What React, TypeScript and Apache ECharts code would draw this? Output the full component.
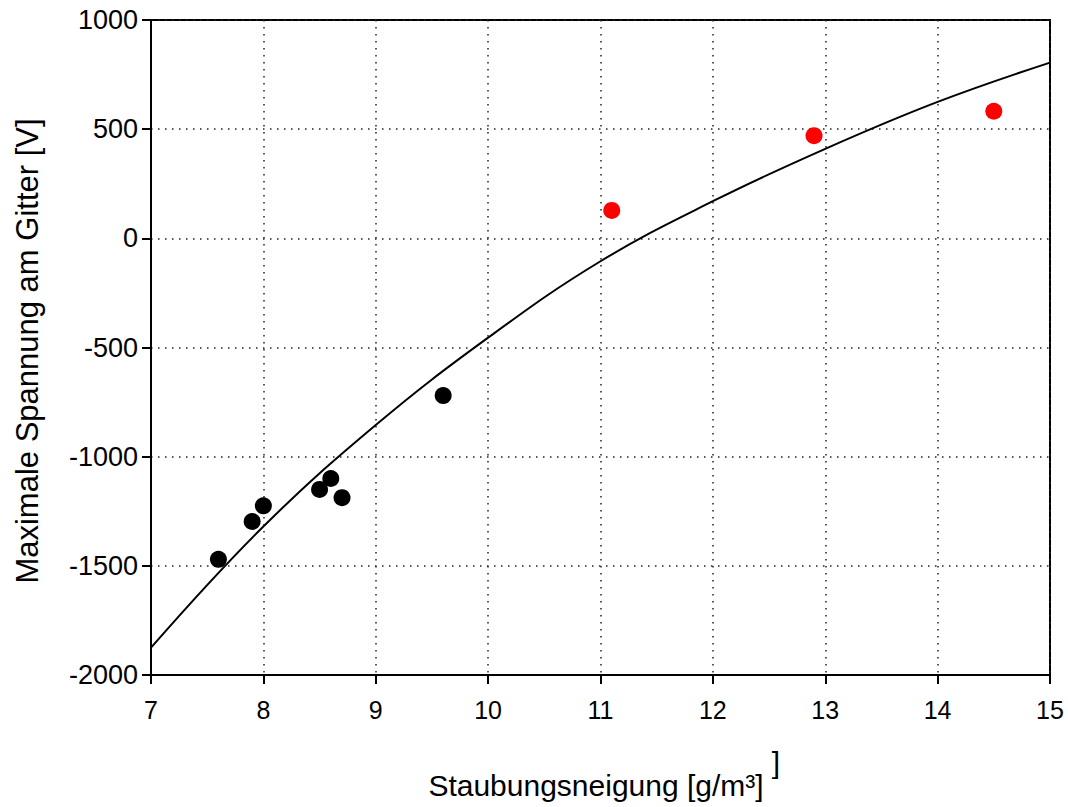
import React, { useEffect, useRef } from "react";
import * as echarts from "echarts";

const xTicks = [7, 8, 9, 10, 11, 12, 13, 14, 15];
const yTicks = [-2000, -1500, -1000, -500, 0, 500, 1000];

const blackX = [7.6, 7.9, 8.0, 8.5, 8.6, 8.7, 9.6];
const blackY = [-1470, -1297, -1225, -1150, -1100, -1188, -720];

const redX = [11.1, 12.9, 14.5];
const redY = [128, 470, 582];

const curveX = [7, 8, 9, 10, 11, 12, 13, 14, 15];
const curveY = [-1875, -1320, -855, -455, -105, 170, 410, 625, 805];

const xTitle = "Staubungsneigung [g/m³]";
const yTitle = "Maximale Spannung am Gitter [V]";

const FONT = "'Liberation Sans', Arial, Helvetica, sans-serif";

export default function App() {
  const ref = useRef<HTMLDivElement>(null);

  useEffect(() => {
    if (!ref.current) return;
    const chart = echarts.init(ref.current, null, { renderer: "svg" });
    const gridStyle = {
      show: true,
      lineStyle: { color: "#222", width: 1.5, type: [1.5, 5.5] as any },
    };
    chart.setOption({
      animation: false,
      backgroundColor: "#fff",
      grid: {
        left: 151,
        right: 18,
        top: 20,
        bottom: 132,
        show: true,
        borderColor: "#000",
        borderWidth: 2,
        backgroundColor: "transparent",
      },
      xAxis: {
        type: "value",
        min: xTicks[0],
        max: xTicks[xTicks.length - 1],
        interval: 1,
        axisLine: { show: true, onZero: false, lineStyle: { color: "#000", width: 2 } },
        axisTick: { show: true, length: 9, lineStyle: { color: "#000", width: 2 } },
        axisLabel: {
          color: "#000",
          fontSize: 25,
          fontFamily: FONT,
          margin: 22,
          formatter: (v: number) => String(v),
        },
        splitLine: gridStyle,
      },
      yAxis: {
        type: "value",
        min: yTicks[0],
        max: yTicks[yTicks.length - 1],
        interval: 500,
        axisLine: { show: true, onZero: false, lineStyle: { color: "#000", width: 2 } },
        axisTick: { show: true, length: 9, lineStyle: { color: "#000", width: 2 } },
        axisLabel: {
          color: "#000",
          fontSize: 27,
          fontFamily: FONT,
          margin: 13,
          formatter: (v: number) => String(v),
        },
        splitLine: gridStyle,
      },
      series: [
        {
          type: "line",
          data: curveX.map((x, i) => [x, curveY[i]]),
          smooth: 0.4,
          showSymbol: false,
          lineStyle: { color: "#000", width: 2 },
          z: 2,
        },
        {
          type: "scatter",
          data: blackX.map((x, i) => [x, blackY[i]]),
          symbol: "circle",
          symbolSize: 17,
          itemStyle: { color: "#000", opacity: 1 },
          z: 3,
        },
        {
          type: "scatter",
          data: redX.map((x, i) => [x, redY[i]]),
          symbol: "circle",
          symbolSize: 17,
          itemStyle: { color: "#ff0000", opacity: 1 },
          z: 3,
        },
      ],
      graphic: [
        {
          type: "text",
          x: 596,
          y: 785,
          style: {
            text: xTitle,
            fontSize: 30,
            fontFamily: FONT,
            fill: "#000",
            align: "center",
            verticalAlign: "middle",
          },
        },
        {
          type: "text",
          x: 776,
          y: 762,
          style: {
            text: "]",
            fontSize: 30,
            fontFamily: FONT,
            fill: "#000",
            align: "center",
            verticalAlign: "middle",
          },
        },
        {
          type: "text",
          x: 27,
          y: 351,
          rotation: Math.PI / 2,
          style: {
            text: yTitle,
            fontSize: 31,
            fontFamily: FONT,
            fill: "#000",
            align: "center",
            verticalAlign: "middle",
          },
        },
      ],
    });
    return () => chart.dispose();
  }, []);

  return (
    <div
      ref={ref}
      style={{ position: "fixed", left: 0, top: 0, width: 1068, height: 807, background: "#fff" }}
    />
  );
}
